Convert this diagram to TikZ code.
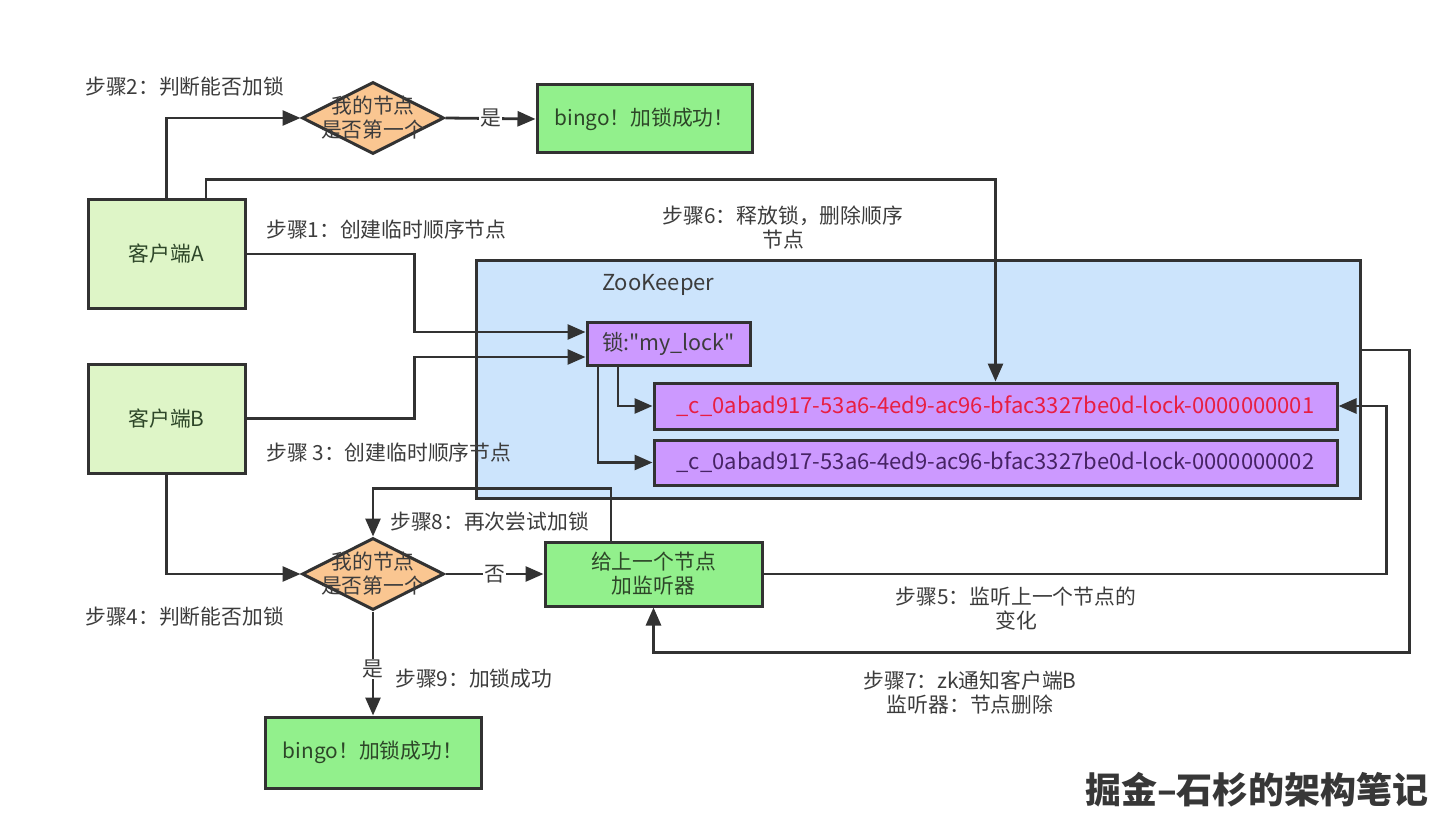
\documentclass[tikz,border=0pt]{standalone}
\usepackage{fontspec}
\setmainfont{Noto Sans CJK SC}
\usetikzlibrary{arrows.meta,shapes.geometric,calc}
\definecolor{txt}{RGB}{60,60,60}
\definecolor{lnc}{RGB}{50,50,50}
\definecolor{clientfill}{RGB}{222,245,199}
\definecolor{okfill}{RGB}{146,240,140}
\definecolor{diafill}{RGB}{250,198,145}
\definecolor{zkfill}{RGB}{204,228,252}
\definecolor{nodefill}{RGB}{204,153,255}
\definecolor{redtxt}{RGB}{232,30,66}
\definecolor{purtxt}{RGB}{70,35,100}
\definecolor{greentxt}{RGB}{45,70,40}
\definecolor{wmtxt}{RGB}{55,55,55}
\tikzset{
  base/.style={font=\fontsize{20.8}{24}\selectfont, text=txt},
  boxnode/.style={base, draw=lnc, line width=3pt, inner sep=0pt, align=center},
  client/.style={boxnode, fill=clientfill, text=greentxt, minimum width=157pt, minimum height=108pt},
  okbox/.style={boxnode, fill=okfill, text=greentxt},
  dia/.style={diamond, draw=lnc, line width=3pt, fill=diafill, inner sep=0pt, minimum width=142pt, minimum height=72pt},
  zknode/.style={boxnode, fill=nodefill, minimum width=683pt, minimum height=45pt, font=\fontsize{22}{24}\selectfont},
  arr/.style={draw=lnc, line width=2.8pt, -{Triangle[length=18pt,width=15pt]}},
  lab/.style={base, align=center, inner sep=0pt},
  edgelab/.style={base, fill=white, inner sep=1pt}
}
\begin{document}
\begin{tikzpicture}[x=1pt,y=-1pt]
\useasboundingbox[fill=white] (0,0) rectangle (1437,829);

% ZooKeeper container
\node[boxnode, fill=zkfill, minimum width=884pt, minimum height=238pt] (zk) at (918,379) {};
\node[lab, anchor=west, font=\fontsize{22}{24}\selectfont] (zklab) at (602,285) {ZooKeeper};

% clients
\node[client] (A) at (166.5,254) {客户端A};
\node[client, minimum height=109pt] (B) at (166.5,418.5) {客户端B};

% diamonds
\node[dia, label={[lab, text=txt]center:我的节点\\是否第一个}] (d1) at (373,118) {};
\node[dia, label={[lab, text=txt]center:我的节点\\是否第一个}] (d2) at (373,574) {};

% result boxes
\node[okbox, minimum width=215pt, minimum height=68pt] (ok1) at (644.5,119) {bingo！加锁成功！};
\node[okbox, minimum width=216pt, minimum height=71pt] (ok2) at (373,752.5) {bingo！加锁成功！};
\node[okbox, minimum width=217pt, minimum height=64pt] (lis) at (653.5,574) {给上一个节点\\加监听器};

% zk nodes
\node[boxnode, fill=nodefill, minimum width=163pt, minimum height=43pt, font=\fontsize{21.5}{24}\selectfont] (lock) at (668.5,343.5) {锁:\textquotedbl my\_lock\textquotedbl};
\node[zknode, minimum height=46pt, text=redtxt] (n1) at (995.5,406) {\_c\_0abad917-53a6-4ed9-ac96-bfac3327be0d-lock-0000000001};
\node[zknode, text=purtxt] (n2) at (995.5,462.5) {\_c\_0abad917-53a6-4ed9-ac96-bfac3327be0d-lock-0000000002};

% connectors
\draw[arr] (A.north) |- (d1.west);
\draw[arr] (d1.east) -- node[edgelab]{是} (ok1.west);
\draw[arr] ([xshift=39.5pt]A.north) |- ([yshift=202pt]n1.north) -- (n1.north);
\draw[arr] (A.east) -- ++(168,0) |- ([yshift=11.5pt]lock.west);
\draw[arr] (B.east) -- ++(168,0) |- ([yshift=-13.5pt]lock.west);
\draw[arr] ([xshift=-50.5pt]lock.south) |- (n1.west);
\draw[arr] ([xshift=-70.5pt]lock.south) |- (n2.west);
\draw[arr] (B.south) |- (d2.west);
\draw[arr] (d2.east) -- node[edgelab]{否} (lis.west);
\draw[arr] ([xshift=-42.5pt]lis.north) -- ++(0,-52) -| (d2.north);
\draw[arr] (d2.south) -- node[edgelab, pos=0.55]{是} (ok2.north);
\draw[arr] (lis.east) -- ++(623,0) |- (n1.east);
\draw[arr] ([yshift=29pt]zk.east) -- ++(48,0) |- ([yshift=-45pt]lis.south) -- (lis.south);

% step labels
\node[lab, anchor=west] (s2) at (85,87) {步骤2：判断能否加锁};
\node[lab, anchor=west] (s1) at (266,230) {步骤1：创建临时顺序节点};
\node[lab] (s6) at (783,228) {步骤6：释放锁，删除顺序\\节点};
\node[lab, anchor=west] (s3) at (266,453) {步骤 3：创建临时顺序节点};
\node[lab, anchor=west] (s8) at (390,522) {步骤8：再次尝试加锁};
\node[lab, anchor=west] (s4) at (85,617) {步骤4：判断能否加锁};
\node[lab, anchor=west] (s9) at (395,679) {步骤9：加锁成功};
\node[lab] (s5) at (1016,609) {步骤5：监听上一个节点的\\变化};
\node[lab] (s7) at (970,693) {步骤7：zk通知客户端B\\监听器：节点删除};

% watermark
\node[inner sep=0pt, text=wmtxt, font=\fontsize{36}{40}\selectfont\bfseries] (wm) at (1257,790) {掘金–石杉的架构笔记};
\end{tikzpicture}
\end{document}
